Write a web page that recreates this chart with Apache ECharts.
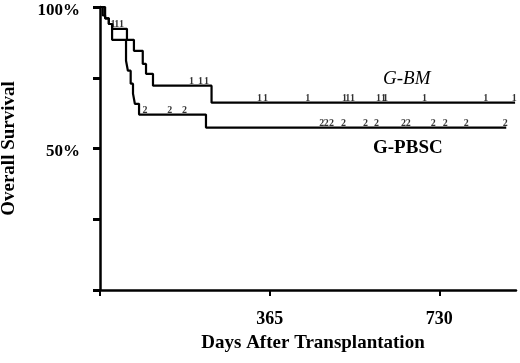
<!DOCTYPE html>
<html><head><meta charset="utf-8">
<script src="https://cdn.jsdelivr.net/npm/echarts@6/dist/echarts.min.js"></script>
<style>html,body{margin:0;padding:0;background:#fff}#c{width:520px;height:363px}</style>
</head><body><div id="c"></div>
<script>
// Kaplan-Meier step data (days after transplantation, overall survival %)
const gbmDays  = [0, 11, 19, 26, 58, 73, 92, 99, 114, 240, 893];
const gbmSurv  = [100, 96, 94, 92.3, 88.4, 84.5, 79.9, 76.4, 72.2, 66.2, 66.2];
const pbscDays = [0, 6, 11, 19, 26, 56, 60, 66, 71, 75, 84, 228, 874];
const pbscSurv = [100, 97, 96, 94, 88.4, 81, 77.5, 72.9, 69.4, 65.8, 62, 57.4, 57.4];
// censored observations (days)
const gbmCensor  = [28, 36, 46, 197, 216, 229, 343, 356, 447, 526, 533, 543, 599, 610, 614, 698, 830, 891];
const pbscCensor = [97, 150, 182, 477, 487, 498, 524, 571, 595, 653, 663, 717, 743, 788, 872];
// axis ticks / labels
const xTicks = [0, 365, 730];
const xLabels = [365, 730];
const yTicks = [0, 25, 50, 75, 100];
const yLabels = [50, 100];

function survAt(days, surv, t) {
  let s = surv[0];
  for (let i = 0; i < days.length; i++) if (days[i] <= t) s = surv[i];
  return s;
}
const zip = (a, b) => a.map((v, i) => [v, b[i]]);
const font = 'Liberation Serif, Times New Roman, serif';

const chart = echarts.init(document.getElementById('c'), null, {renderer: 'canvas'});
const axisBase = {type: 'value', splitLine: {show: false}};
chart.setOption({
  animation: false,
  backgroundColor: '#fff',
  grid: {left: 100, right: 4, top: 7, bottom: 73, containLabel: false, outerBoundsMode: 'none'},
  xAxis: [
    Object.assign({}, axisBase, {min: 0, max: 895, position: 'bottom',
      axisLine: {show: true, lineStyle: {color: '#000', width: 2.5}},
      axisTick: {show: false}, axisLabel: {show: false}}),
    Object.assign({}, axisBase, {min: 0, max: 895, position: 'bottom', offset: 11,
      axisLine: {show: false},
      axisTick: {show: true, length: 6, customValues: xTicks, lineStyle: {color: '#000', width: 2}},
      axisLabel: {show: true, customValues: xLabels, margin: 9, color: '#000',
        fontFamily: font, fontWeight: 'bold', fontSize: 18},
      name: 'Days After Transplantation', nameLocation: 'middle', nameGap: 33,
      nameTextStyle: {color: '#000', fontFamily: font, fontWeight: 'bold', fontSize: 19, padding: [0, 0, 0, 10]}})
  ],
  yAxis: [
    Object.assign({}, axisBase, {min: 0, max: 100, position: 'left',
      axisLine: {show: true, lineStyle: {color: '#000', width: 2.5}},
      axisTick: {show: false}, axisLabel: {show: false}}),
    Object.assign({}, axisBase, {min: 0, max: 100, position: 'left', offset: 10,
      axisLine: {show: false},
      axisTick: {show: true, length: 7, customValues: yTicks, lineStyle: {color: '#000', width: 3}},
      axisLabel: {show: true, customValues: yLabels, margin: 10, formatter: '{v|{value}%}', color: '#000',
        rich: {v: {fontFamily: font, fontWeight: 'bold', fontSize: 17, color: '#000', padding: [7, 0, 0, 0]}}},
      name: 'Overall Survival', nameLocation: 'middle', nameGap: 71,
      nameTextStyle: {color: '#000', fontFamily: font, fontWeight: 'bold', fontSize: 19}})
  ],
  series: [
    {name: 'G-BM', type: 'line', step: 'end', data: zip(gbmDays, gbmSurv), showSymbol: false,
      lineStyle: {color: '#000', width: 2.2}, z: 3},
    {name: 'G-PBSC', type: 'line', step: 'end', data: zip(pbscDays, pbscSurv), showSymbol: false,
      lineStyle: {color: '#000', width: 2.2}, z: 3},
    {name: 'G-BM censored', type: 'scatter', symbolSize: 1, itemStyle: {color: 'rgba(0,0,0,0)'},
      data: gbmCensor.map(t => [t, survAt(gbmDays, gbmSurv, t)]),
      label: {show: true, formatter: '1', position: 'top', distance: -1, color: '#000',
        fontFamily: font, fontWeight: 'bold', fontSize: 10}},
    {name: 'G-PBSC censored', type: 'scatter', symbolSize: 1, itemStyle: {color: 'rgba(0,0,0,0)'},
      data: pbscCensor.map(t => [t, survAt(pbscDays, pbscSurv, t)]),
      label: {show: true, formatter: '2', position: 'top', distance: -1, color: '#000',
        fontFamily: font, fontWeight: 'bold', fontSize: 10}}
  ],
  graphic: [
    {type: 'text', left: 383, top: 69, style: {text: 'G-BM', fill: '#000', font: 'italic 19px ' + font}},
    {type: 'text', left: 373, top: 139, style: {text: 'G-PBSC', fill: '#000', font: 'bold 19px ' + font}}
  ]
});
</script></body></html>
